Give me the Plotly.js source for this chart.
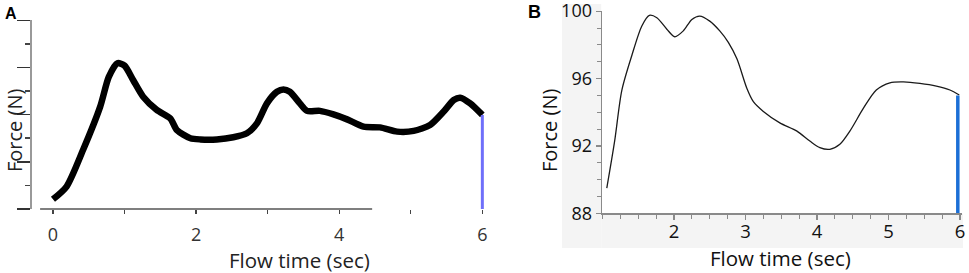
<!DOCTYPE html>
<html>
<head>
<meta charset="utf-8">
<script src="https://cdn.plot.ly/plotly-3.0.1.min.js"></script>
<style>html,body{margin:0;padding:0;background:#fff;}#chart{width:969px;height:273px;}</style>
</head>
<body>
<div id="chart"></div>
<script>
// Panel A (force in arbitrary units, no y labels)
const timeA  = [0, 0.19, 0.42, 0.66, 0.78, 0.9, 1.0, 1.12, 1.26, 1.45, 1.64, 1.73, 1.92, 2.06, 2.29, 2.52, 2.71, 2.85, 2.99, 3.13, 3.22, 3.31, 3.45, 3.55, 3.73, 3.92, 4.11, 4.34, 4.57, 4.81, 5.04, 5.27, 5.46, 5.60, 5.69, 5.83, 6.0];
const forceA = [0.41, 0.95, 2.5, 4.34, 5.6, 6.18, 6.08, 5.47, 4.76, 4.2, 3.84, 3.35, 3.0, 2.95, 2.95, 3.04, 3.21, 3.63, 4.48, 4.97, 5.07, 4.97, 4.48, 4.16, 4.16, 4.01, 3.8, 3.49, 3.46, 3.28, 3.31, 3.56, 4.13, 4.62, 4.72, 4.48, 3.99];
const cutA_time  = [6, 6];
const cutA_force = [3.99, 0];
const tickValsA = [0, 1, 2, 3, 4, 5, 6];
const tickTextA = ['0', '', '2', '', '4', '', '6'];

// Panel B
const timeB  = [1.06, 1.17, 1.27, 1.41, 1.55, 1.655, 1.76, 1.90, 2.01, 2.13, 2.25, 2.36, 2.50, 2.64, 2.76, 2.88, 3.02, 3.11, 3.25, 3.48, 3.72, 3.90, 4.04, 4.18, 4.32, 4.46, 4.65, 4.83, 5.02, 5.21, 5.44, 5.67, 5.86, 5.99];
const forceB = [89.5, 92.3, 95.3, 97.37, 99.12, 99.75, 99.61, 98.93, 98.48, 98.83, 99.51, 99.71, 99.41, 98.83, 98.15, 97.17, 95.41, 94.63, 94.05, 93.37, 92.88, 92.29, 91.90, 91.80, 92.10, 92.88, 94.24, 95.32, 95.75, 95.80, 95.71, 95.55, 95.32, 95.02];
const cutB_time  = [5.97, 5.97];
const cutB_force = [95.0, 88];
const tickValsBx = [2, 3, 4, 5, 6];
const tickValsBy = [88, 92, 96, 100];

const W = 969, H = 273;
const px = v => v / W;
const py = v => (H - v) / H;
const FONT = 'Open Sans, sans-serif';

const traces = [
  {x: timeA, y: forceA, xaxis: 'x', yaxis: 'y', mode: 'lines',
   line: {color: '#000', width: 6.5, shape: 'spline', smoothing: 0.7}, hoverinfo: 'skip'},
  {x: cutA_time, y: cutA_force, xaxis: 'x', yaxis: 'y', mode: 'lines',
   line: {color: '#6f6ffa', width: 3}, hoverinfo: 'skip'},
  {x: timeB, y: forceB, xaxis: 'x2', yaxis: 'y2', mode: 'lines',
   line: {color: '#1a1a1a', width: 1.3, shape: 'spline', smoothing: 0.8}, hoverinfo: 'skip'},
  {x: cutB_time, y: cutB_force, xaxis: 'x2', yaxis: 'y2', mode: 'lines',
   line: {color: '#1b6fd6', width: 3.5}, hoverinfo: 'skip'}
];

function ann(text, x, y, size, color, angle, family) {
  return {text: text, xref: 'paper', yref: 'paper', x: px(x), y: py(y), showarrow: false,
          xanchor: 'center', yanchor: 'middle', textangle: angle || 0,
          font: {family: family || FONT, size: size, color: color}};
}

const layout = {
  width: W, height: H,
  margin: {l: 0, r: 0, t: 0, b: 0},
  paper_bgcolor: '#fff', plot_bgcolor: 'rgba(0,0,0,0)',
  showlegend: false,
  font: {family: FONT, color: '#222'},
  xaxis: {
    domain: [px(31.5), px(489.5)], range: [-0.3, 6.1], anchor: 'y',
    showline: false, zeroline: false, showgrid: false,
    tickmode: 'array', tickvals: tickValsA, ticktext: tickTextA,
    ticks: 'outside', ticklen: 4, tickcolor: '#444', tickwidth: 1.2,
    tickfont: {size: 18, color: '#333'}, ticklabelstandoff: 5
  },
  yaxis: {
    domain: [py(209), py(20.3)], range: [0, 8], anchor: 'x',
    showline: true, linecolor: '#999', linewidth: 2, zeroline: false, showgrid: false,
    tickmode: 'linear', tick0: 0, dtick: 2, ticks: 'outside', ticklen: 13,
    tickcolor: '#333', tickwidth: 1.5, showticklabels: false,
    minor: {dtick: 1, ticklen: 5, tickcolor: '#444', tickwidth: 1.5, ticks: 'outside'}
  },
  xaxis2: {
    domain: [px(601.8), px(962.1)], range: [0.99, 6.03], anchor: 'y2',
    showline: true, linecolor: '#8a8a8a', linewidth: 1.2, zeroline: false, showgrid: false,
    tickmode: 'array', tickvals: tickValsBx, ticks: 'outside', ticklen: 5,
    tickcolor: '#8a8a8a', tickwidth: 1.2,
    minor: {tickmode: 'linear', dtick: 0.25, tick0: 2, ticklen: 4, tickcolor: '#8a8a8a', tickwidth: 1, ticks: 'outside'},
    tickfont: {size: 18.5, color: '#111'}, ticklabelstandoff: -4, ticklabeloverflow: 'allow'
  },
  yaxis2: {
    domain: [py(213.3), py(11)], range: [88, 100.01], anchor: 'x2',
    showline: true, linecolor: '#8a8a8a', linewidth: 1.2, zeroline: false, showgrid: false,
    tickmode: 'array', tickvals: tickValsBy, ticks: 'outside', ticklen: 5,
    tickcolor: '#8a8a8a', tickwidth: 1.2,
    minor: {tickmode: 'linear', dtick: 1, tick0: 88, ticklen: 4, tickcolor: '#8a8a8a', tickwidth: 1, ticks: 'outside'},
    tickfont: {size: 18, color: '#111'}, ticklabeloverflow: 'allow'
  },
  shapes: [
    // broken x axis line of panel A
    {type: 'line', xref: 'x', yref: 'paper', x0: -0.18, x1: 4.46, y0: py(209), y1: py(209),
     line: {color: '#555', width: 1.5}, layer: 'below'},
    // light grey backdrop of panel B
    {type: 'rect', xref: 'paper', yref: 'paper', x0: px(562), x1: px(601.2), y0: py(248), y1: py(4),
     fillcolor: '#f4f4f4', line: {width: 0}, layer: 'below'},
    {type: 'rect', xref: 'paper', yref: 'paper', x0: px(601.2), x1: px(963), y0: py(248), y1: py(214),
     fillcolor: '#f4f4f4', line: {width: 0}, layer: 'below'}
  ],
  annotations: [
    ann('<b>A</b>', 10.5, 13, 16, '#000', 0, 'Liberation Sans, Arial, sans-serif'),
    ann('<b>B</b>', 534, 12, 18, '#000', 0, 'Liberation Sans, Arial, sans-serif'),
    ann('Flow time (sec)', 299, 260, 20.5, '#222'),
    ann('Force (N)', 14, 131, 20, '#222', -90),
    ann('Flow time (sec)', 780, 258, 20.5, '#111'),
    ann('Force (N)', 549, 131, 20, '#111', -90)
  ]
};

Plotly.newPlot('chart', traces, layout, {staticPlot: true, displayModeBar: false});
</script>
</body>
</html>
